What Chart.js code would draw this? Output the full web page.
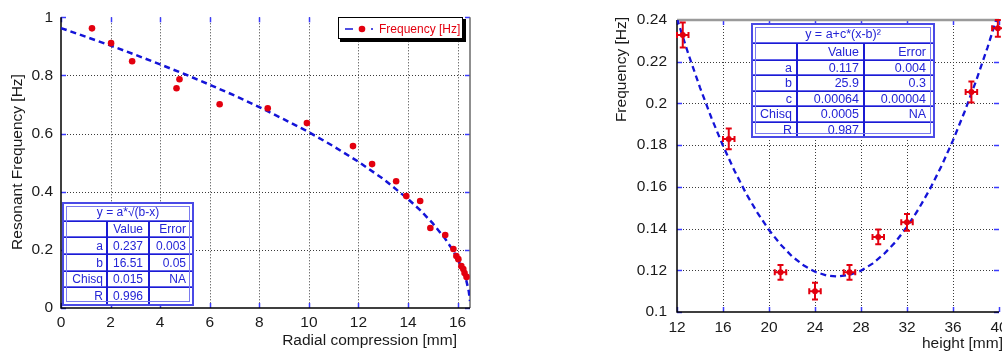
<!DOCTYPE html>
<html><head><meta charset="utf-8">
<script src="https://cdn.jsdelivr.net/npm/chart.js@4"></script>
<style>
html,body{margin:0;padding:0;background:#fff;overflow:hidden;width:1002px;height:352px;position:relative;}
#c1{position:absolute;left:0;top:0;}
#c2{position:absolute;left:580px;top:0;}
</style></head><body>
<canvas id="c1" width="490" height="352"></canvas>
<canvas id="c2" width="440" height="352"></canvas>
<script>
// ---------- Left chart data ----------
const compX    = [1.25, 2.02, 2.87, 4.66, 4.78, 6.40, 8.34, 9.92, 11.78, 12.55, 13.52, 13.93, 14.49, 14.90, 15.50, 15.83, 15.95, 16.03, 16.15, 16.23, 16.28, 16.36];
const compFreq = [0.962, 0.911, 0.849, 0.756, 0.787, 0.701, 0.687, 0.636, 0.557, 0.495, 0.436, 0.385, 0.368, 0.275, 0.251, 0.203, 0.179, 0.168, 0.144, 0.134, 0.120, 0.107];
const fitCompX = [0, 1, 2, 3, 4, 5, 6, 7, 8, 9, 10, 11, 12, 13, 14, 14.5, 15, 15.5, 15.8, 16, 16.2, 16.35, 16.45, 16.5];
const fitCompY = [0.963, 0.933, 0.903, 0.871, 0.838, 0.804, 0.768, 0.731, 0.691, 0.649, 0.605, 0.556, 0.503, 0.444, 0.375, 0.336, 0.291, 0.238, 0.200, 0.169, 0.132, 0.095, 0.058, 0.024];
const leftXTicks = [0, 2, 4, 6, 8, 10, 12, 14, 16];
const leftYTicks = [0, 0.2, 0.4, 0.6, 0.8, 1];
const leftYLabels = ['0', '0.2', '0.4', '0.6', '0.8', '1'];
const leftTableHeader = 'y = a*\u221A(b-x)';
const leftTableRows = [['', 'Value', 'Error'], ['a', '0.237', '0.003'], ['b', '16.51', '0.05'], ['Chisq', '0.015', 'NA'], ['R', '0.996', '']];

// ---------- Right chart data ----------
const heightX       = [12.5, 16.5, 21.0, 24.0, 27.0, 29.5, 32.0, 37.6, 39.9];
const heightFreq    = [0.2328, 0.183, 0.119, 0.110, 0.119, 0.136, 0.143, 0.2055, 0.236];
const heightXErr    = [0.5, 0.5, 0.5, 0.5, 0.5, 0.5, 0.5, 0.5, 0.5];
const heightFreqErr = [0.006, 0.005, 0.0035, 0.004, 0.0035, 0.0035, 0.004, 0.005, 0.004];
const fitHeightX = [12, 13, 14, 15, 16, 17, 18, 19, 20, 21, 22, 23, 24, 25, 25.9, 27, 28, 29, 30, 31, 32, 33, 34, 35, 36, 37, 38, 39, 40];
const fitHeightY = [0.2407, 0.2235, 0.2076, 0.1930, 0.1797, 0.1677, 0.1569, 0.1475, 0.1393, 0.1324, 0.1267, 0.1224, 0.1193, 0.1175, 0.1170, 0.1178, 0.1198, 0.1232, 0.1278, 0.1336, 0.1408, 0.1493, 0.1590, 0.1700, 0.1823, 0.1959, 0.2107, 0.2268, 0.2442];
const rightXTicks = [12, 16, 20, 24, 28, 32, 36, 40];
const rightYTicks = [0.1, 0.12, 0.14, 0.16, 0.18, 0.2, 0.22, 0.24];
const rightYLabels = ['0.1', '0.12', '0.14', '0.16', '0.18', '0.2', '0.22', '0.24'];
const rightTableHeader = 'y = a+c*(x-b)\u00B2';
const rightTableRows = [['', 'Value', 'Error'], ['a', '0.117', '0.004'], ['b', '25.9', '0.3'], ['c', '0.00064', '0.00004'], ['Chisq', '0.0005', 'NA'], ['R', '0.987', '']];

// ---------- styling ----------
const FONT = '"Liberation Sans", Arial, sans-serif';
const RED = '#e3000f';
const BLUE = '#1414d8';
const TBLUE = '#2424d6';
const TICKBLUE = '#3a3aff';

function pts(xs, ys) { return xs.map((x, i) => ({x: x, y: ys[i]})); }

function drawGridAndFrame(chart, xt, yt, frame) {
  const ctx = chart.ctx, a = chart.chartArea, xs = chart.scales.x, ys = chart.scales.y;
  ctx.save();
  ctx.lineWidth = 1; ctx.strokeStyle = '#3a3a3a'; ctx.setLineDash([1, 2]);
  xt.forEach(v => {
    if (v <= xs.min || v >= xs.max) return;
    const p = Math.round(xs.getPixelForValue(v)) + 0.5;
    ctx.beginPath(); ctx.moveTo(p, a.top); ctx.lineTo(p, a.bottom); ctx.stroke();
  });
  yt.forEach(v => {
    if (v <= ys.min || v >= ys.max) return;
    const p = Math.round(ys.getPixelForValue(v)) + 0.5;
    ctx.beginPath(); ctx.moveTo(a.left, p); ctx.lineTo(a.right, p); ctx.stroke();
  });
  ctx.setLineDash([]);
  // blue tick marks on all sides
  ctx.strokeStyle = TICKBLUE; ctx.lineWidth = 1.5;
  xt.forEach(v => {
    const p = Math.round(xs.getPixelForValue(v)) + 0.5;
    ctx.beginPath(); ctx.moveTo(p, a.bottom); ctx.lineTo(p, a.bottom - 5); ctx.stroke();
    ctx.beginPath(); ctx.moveTo(p, a.top); ctx.lineTo(p, a.top + 5); ctx.stroke();
  });
  yt.forEach(v => {
    const p = Math.round(ys.getPixelForValue(v)) + 0.5;
    ctx.beginPath(); ctx.moveTo(a.left, p); ctx.lineTo(a.left + 5, p); ctx.stroke();
    ctx.beginPath(); ctx.moveTo(a.right, p); ctx.lineTo(a.right - 5, p); ctx.stroke();
  });
  // frame
  ctx.lineWidth = 1.5;
  if (frame.top) { ctx.strokeStyle = frame.top; ctx.lineWidth = 2.5; ctx.beginPath(); ctx.moveTo(a.left, a.top); ctx.lineTo(a.right, a.top); ctx.stroke(); ctx.lineWidth = 1.5; }
  if (frame.right) { ctx.strokeStyle = frame.right; ctx.beginPath(); ctx.moveTo(a.right, a.top); ctx.lineTo(a.right, a.bottom); ctx.stroke(); }
  ctx.strokeStyle = '#000';
  ctx.beginPath(); ctx.moveTo(a.left, a.top); ctx.lineTo(a.left, a.bottom); ctx.lineTo(a.right, a.bottom); ctx.stroke();
  ctx.restore();
}

function drawTable(ctx, colX, rowY, header, rows, fontSize, pads) {
  ctx.save();
  const x0 = colX[0], x1 = colX[colX.length - 1], y0 = rowY[0], y1 = rowY[rowY.length - 1];
  ctx.fillStyle = '#fff'; ctx.fillRect(x0, y0, x1 - x0, y1 - y0);
  // row separators
  ctx.strokeStyle = '#6262ea'; ctx.lineWidth = 2;
  for (let i = 1; i < rowY.length - 1; i++) {
    ctx.beginPath(); ctx.moveTo(x0, rowY[i]); ctx.lineTo(x1, rowY[i]); ctx.stroke();
  }
  ctx.strokeStyle = '#1b1bd2'; ctx.lineWidth = 1;
  for (let i = 1; i < rowY.length - 1; i++) {
    ctx.beginPath(); ctx.moveTo(x0, rowY[i] + 0.5); ctx.lineTo(x1, rowY[i] + 0.5); ctx.stroke();
  }
  // column separators
  ctx.strokeStyle = '#1b1bd2'; ctx.lineWidth = 2;
  for (let j = 1; j < colX.length - 1; j++) {
    ctx.beginPath(); ctx.moveTo(colX[j], rowY[1]); ctx.lineTo(colX[j], y1); ctx.stroke();
  }
  // double outer border
  ctx.strokeStyle = '#4a4ae6'; ctx.lineWidth = 2;
  ctx.strokeRect(x0, y0, x1 - x0, y1 - y0);
  ctx.strokeStyle = '#7a7af0'; ctx.lineWidth = 1;
  ctx.strokeRect(x0 + 3.5, y0 + 3.5, x1 - x0 - 7, y1 - y0 - 7);
  // text
  ctx.fillStyle = TBLUE; ctx.font = fontSize + 'px ' + FONT; ctx.textBaseline = 'middle';
  ctx.textAlign = 'center';
  ctx.fillText(header, (x0 + x1) / 2, (rowY[0] + rowY[1]) / 2 + 1);
  ctx.textAlign = 'right';
  rows.forEach((r, i) => {
    const yc = (rowY[i + 1] + rowY[i + 2]) / 2 + 1;
    r.forEach((t, j) => { if (t) ctx.fillText(t, colX[j + 1] - pads[j], yc); });
  });
  ctx.restore();
}

function drawErrorBars(chart) {
  const ctx = chart.ctx, xs = chart.scales.x, ys = chart.scales.y, a = chart.chartArea;
  ctx.save();
  ctx.beginPath(); ctx.rect(a.left - 2, a.top - 4, a.right - a.left + 30, a.bottom - a.top + 8); ctx.clip();
  ctx.strokeStyle = RED; ctx.lineWidth = 2;
  heightX.forEach((x, i) => {
    const y = heightFreq[i];
    const px = xs.getPixelForValue(x), py = ys.getPixelForValue(y);
    const xl = xs.getPixelForValue(x - heightXErr[i]), xr = xs.getPixelForValue(x + heightXErr[i]);
    const yt = ys.getPixelForValue(y + heightFreqErr[i]), yb = ys.getPixelForValue(y - heightFreqErr[i]);
    ctx.beginPath();
    ctx.moveTo(xl, py); ctx.lineTo(xr, py);
    ctx.moveTo(xl, py - 3); ctx.lineTo(xl, py + 3);
    ctx.moveTo(xr, py - 3); ctx.lineTo(xr, py + 3);
    ctx.moveTo(px, yt); ctx.lineTo(px, yb);
    ctx.moveTo(px - 3, yt); ctx.lineTo(px + 3, yt);
    ctx.moveTo(px - 3, yb); ctx.lineTo(px + 3, yb);
    ctx.stroke();
  });
  ctx.restore();
}

const tickFont = {family: FONT, size: 15.5};
const gridOpts = {display: false, drawTicks: false, tickLength: 0};

// ---------- Left chart ----------
new Chart(document.getElementById('c1'), {
  type: 'scatter',
  data: {
    datasets: [
      {data: pts(fitCompX, fitCompY), showLine: true, pointRadius: 0, borderColor: BLUE, borderWidth: 2.5, borderDash: [6, 4], fill: false, order: 2},
      {data: pts(compX, compFreq), pointRadius: 3.3, pointBackgroundColor: RED, pointBorderWidth: 0, showLine: false, order: 1}
    ]
  },
  options: {
    responsive: false, animation: false, devicePixelRatio: 1,
    layout: {padding: {left: 0, top: 17, right: 20, bottom: 0}},
    plugins: {legend: {display: false}, tooltip: {enabled: false}},
    scales: {
      x: {type: 'linear', min: 0, max: 16.5,
          grid: gridOpts, border: {display: false},
          afterBuildTicks: s => { s.ticks = leftXTicks.map(v => ({value: v})); },
          afterFit: s => { s.height = 44; },
          ticks: {font: tickFont, color: '#1a1a1a', padding: 5, maxRotation: 0, autoSkip: false, callback: (v) => String(v)}},
      y: {type: 'linear', min: 0, max: 1,
          grid: gridOpts, border: {display: false},
          afterBuildTicks: s => { s.ticks = leftYTicks.map(v => ({value: v})); },
          afterFit: s => { s.width = 61; },
          ticks: {font: tickFont, color: '#1a1a1a', padding: 8, autoSkip: false, callback: (v, i) => leftYLabels[i]}}
    }
  },
  plugins: [{
    id: 'leftDeco',
    beforeDatasetsDraw(chart) { drawGridAndFrame(chart, leftXTicks, leftYTicks, {right: '#6a6a6a'}); },
    afterDraw(chart) {
      const ctx = chart.ctx;
      // axis titles
      ctx.save();
      ctx.fillStyle = '#1a1a1a'; ctx.font = '15.5px ' + FONT; ctx.textBaseline = 'middle';
      ctx.textAlign = 'right'; ctx.fillText('Radial compression [mm]', 457, 341);
      ctx.translate(18, 162); ctx.rotate(-Math.PI / 2); ctx.textAlign = 'center';
      ctx.fillText('Resonant Frequency [Hz]', 0, 0);
      ctx.restore();
      // legend
      ctx.save();
      ctx.fillStyle = '#000'; ctx.fillRect(340, 19, 126, 23);
      ctx.fillStyle = '#fff'; ctx.fillRect(338, 17, 125, 22);
      ctx.strokeStyle = '#000'; ctx.lineWidth = 1; ctx.strokeRect(338.5, 17.5, 124, 21);
      ctx.strokeStyle = BLUE; ctx.lineWidth = 1.5;
      ctx.beginPath(); ctx.moveTo(345, 29); ctx.lineTo(353, 29); ctx.moveTo(371, 29); ctx.lineTo(373, 29); ctx.stroke();
      ctx.fillStyle = RED; ctx.beginPath(); ctx.arc(362, 29, 3.3, 0, Math.PI * 2); ctx.fill();
      ctx.font = '12px ' + FONT; ctx.textBaseline = 'middle'; ctx.textAlign = 'left';
      ctx.fillText('Frequency [Hz]', 379, 29.5);
      ctx.restore();
      drawTable(ctx, [63, 107, 149, 193], [203, 221, 237, 254, 271, 287, 305], leftTableHeader, leftTableRows, 12, [4, 6, 7]);
    }
  }]
});

// ---------- Right chart ----------
new Chart(document.getElementById('c2'), {
  type: 'scatter',
  data: {
    datasets: [
      {data: pts(fitHeightX, fitHeightY), showLine: true, pointRadius: 0, borderColor: BLUE, borderWidth: 2.3, borderDash: [6, 4], fill: false, order: 2},
      {data: pts(heightX, heightFreq), pointRadius: 3, pointBackgroundColor: RED, pointBorderWidth: 0, showLine: false, order: 1, clip: {left: 2, top: 4, right: 30, bottom: 4}}
    ]
  },
  options: {
    responsive: false, animation: false, devicePixelRatio: 1,
    layout: {padding: {left: 0, top: 20, right: 21, bottom: 0}},
    plugins: {legend: {display: false}, tooltip: {enabled: false}},
    scales: {
      x: {type: 'linear', min: 12, max: 40,
          grid: gridOpts, border: {display: false},
          afterBuildTicks: s => { s.ticks = rightXTicks.map(v => ({value: v})); },
          afterFit: s => { s.height = 40; },
          ticks: {font: tickFont, color: '#1a1a1a', padding: 6, maxRotation: 0, autoSkip: false, callback: (v) => String(v)}},
      y: {type: 'linear', min: 0.1, max: 0.24,
          grid: gridOpts, border: {display: false},
          afterBuildTicks: s => { s.ticks = rightYTicks.map(v => ({value: v})); },
          afterFit: s => { s.width = 97; },
          ticks: {font: tickFont, color: '#1a1a1a', padding: 10, autoSkip: false, callback: (v, i) => rightYLabels[i]}}
    }
  },
  plugins: [{
    id: 'rightDeco',
    beforeDatasetsDraw(chart) { drawGridAndFrame(chart, rightXTicks, rightYTicks, {top: '#9a9a9a'}); },
    afterDatasetsDraw(chart) { drawErrorBars(chart); },
    afterDraw(chart) {
      const ctx = chart.ctx;
      ctx.save();
      ctx.fillStyle = '#1a1a1a'; ctx.font = '15.5px ' + FONT; ctx.textBaseline = 'middle';
      ctx.textAlign = 'left'; ctx.fillText('height [mm]', 342, 344);
      ctx.translate(42, 17); ctx.rotate(-Math.PI / 2); ctx.textAlign = 'right';
      ctx.fillText('Frequency [Hz]', 0, 0);
      ctx.restore();
      drawTable(ctx, [172, 217, 284, 354], [24, 43, 60, 75, 91, 106, 122, 137], rightTableHeader, rightTableRows, 12.5, [5, 5, 8]);
    }
  }]
});
</script>
</body></html>
